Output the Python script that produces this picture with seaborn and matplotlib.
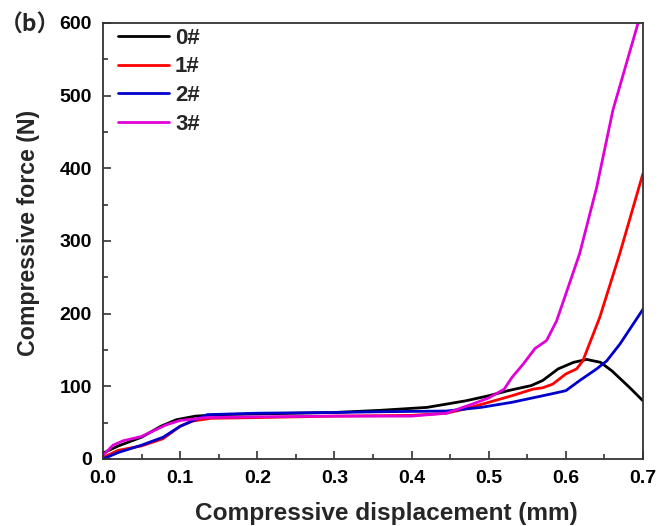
import pandas as pd
import numpy as np
import seaborn as sns
import matplotlib.pyplot as plt
from matplotlib.ticker import MultipleLocator

# Curves: displacement (mm) vs force (N)
x0 = [0, 0.02, 0.05, 0.075, 0.095, 0.12, 0.15, 0.2, 0.3, 0.36, 0.42, 0.47, 0.5,
      0.525, 0.555, 0.57, 0.59, 0.61, 0.627, 0.645, 0.66, 0.683, 0.7]
y0 = [8, 18, 30, 45, 54, 59, 61, 62, 64, 67, 71, 80, 87,
      94, 101, 108, 124, 133, 137, 133, 121, 98, 80]

x1 = [0, 0.02, 0.05, 0.078, 0.1, 0.115, 0.14, 0.2, 0.3, 0.4, 0.445, 0.47, 0.5,
      0.53, 0.557, 0.57, 0.583, 0.6, 0.614, 0.622, 0.644, 0.67, 0.7]
y1 = [2, 12, 18, 28, 45, 52, 56, 57, 59, 60, 63, 69, 78,
      87, 96, 98, 103, 117, 124, 135, 195, 283, 393]

x2 = [0, 0.02, 0.05, 0.078, 0.1, 0.135, 0.2, 0.3, 0.36, 0.445, 0.49, 0.53, 0.57,
      0.583, 0.6, 0.618, 0.64, 0.653, 0.67, 0.7]
y2 = [0, 9, 19, 30, 45, 61, 63, 64, 65, 66, 71, 78, 87,
      90, 94, 108, 124, 135, 158, 206]

x3 = [0, 0.013, 0.026, 0.05, 0.082, 0.1, 0.134, 0.2, 0.3, 0.36, 0.4, 0.445, 0.48,
      0.5, 0.52, 0.53, 0.545, 0.56, 0.575, 0.588, 0.6, 0.618, 0.64, 0.661, 0.695]
y3 = [5, 19, 25, 31, 47, 53, 57, 58, 59, 59, 59, 63, 76,
      84, 96, 112, 131, 152, 163, 190, 227, 283, 374, 480, 605]

labels = ["0#", "1#", "2#", "3#"]
colors = ["#000000", "#ff0000", "#0000cc", "#e000d8"]

frames = []
for lab, xs, ys in zip(labels, [x0, x1, x2, x3], [y0, y1, y2, y3]):
    frames.append(pd.DataFrame({"disp": xs, "force": ys, "sample": lab}))
df = pd.concat(frames, ignore_index=True)

sns.set_style("ticks")
plt.rcParams["font.family"] = ["Liberation Sans", "DejaVu Sans"]
plt.rcParams["font.weight"] = "bold"

fig = plt.figure(figsize=(6.59, 5.26), dpi=100)
ax = fig.add_axes([0.1563, 0.1274, 0.8194, 0.8289])

sns.lineplot(data=df, x="disp", y="force", hue="sample", palette=colors,
             sort=False, estimator=None, linewidth=2.0, ax=ax)

ax.set_xlim(0, 0.7)
ax.set_ylim(0, 600)
ax.xaxis.set_major_locator(MultipleLocator(0.1))
ax.xaxis.set_minor_locator(MultipleLocator(0.05))
ax.yaxis.set_major_locator(MultipleLocator(100))
ax.yaxis.set_minor_locator(MultipleLocator(50))
ax.xaxis.set_major_formatter(plt.FuncFormatter(lambda v, p: f"{v:.1f}"))
ax.tick_params(which="major", direction="in", length=6, width=1.2, labelsize=14,
               colors="#333333", labelcolor="black")
ax.tick_params(axis="x", which="major", pad=8)
ax.tick_params(axis="y", which="major", pad=8)
ax.tick_params(which="minor", direction="in", length=3.5, width=1.2, colors="#333333")
for lbl in ax.get_xticklabels() + ax.get_yticklabels():
    lbl.set_fontweight("bold")
for sp in ax.spines.values():
    sp.set_color("#333333")
    sp.set_linewidth(1.3)

ax.set_xlabel("Compressive displacement (mm)", fontsize=17.6, fontweight="bold",
              labelpad=11, x=0.524)
ax.set_ylabel("Compressive force (N)", fontsize=16.7, fontweight="bold",
              labelpad=14, y=0.518)

leg = ax.legend(loc="upper left", frameon=False, fontsize=16, handlelength=2.3,
                labelspacing=0.35, borderaxespad=0.0, handletextpad=0.25,
                bbox_to_anchor=(0.012, 1.01))
for t in leg.get_texts():
    t.set_fontweight("bold")

fig.text(0.0, 0.952, "（b）", fontsize=16.5, fontweight="bold", va="center",
         family=["Noto Sans CJK SC", "DejaVu Sans"])

fig.savefig("out.png", dpi=100)
